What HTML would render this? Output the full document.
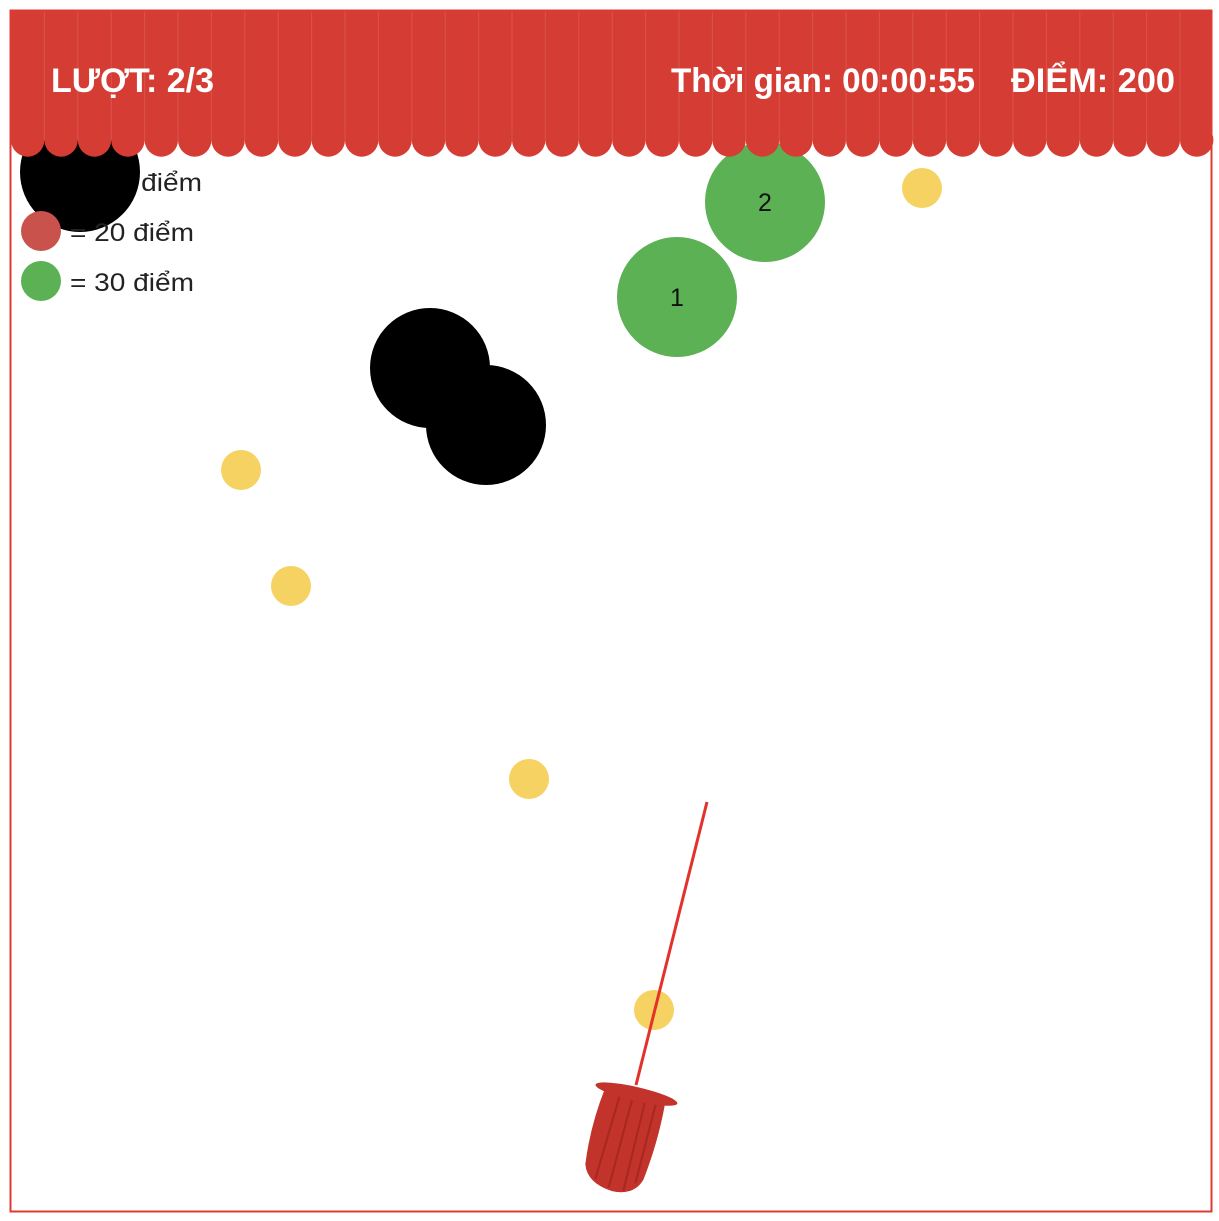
<!DOCTYPE html>
<html><head><meta charset="utf-8"><style>
html,body{margin:0;padding:0;background:#fff;}
svg{display:block;}
text{font-family:"Liberation Sans","DejaVu Sans",sans-serif;}
</style></head>
<body>
<svg id="game" width="1219" height="1221" viewBox="0 0 1219 1221" xmlns="http://www.w3.org/2000/svg">
<rect x="10" y="10" width="1202" height="1202" fill="#fff"/>
<g id="balls"></g>
<g id="legend">
 <circle cx="41" cy="231" r="20" fill="#c9524c"/>
 <text x="70" y="241" font-size="25" fill="#222" textLength="124" lengthAdjust="spacingAndGlyphs">= 20 điểm</text>
 <circle cx="41" cy="281" r="20" fill="#5cb155"/>
 <text x="70" y="291" font-size="25" fill="#222" textLength="124" lengthAdjust="spacingAndGlyphs">= 30 điểm</text>
</g>
<g id="front"></g>
<g id="header"></g>
<line x1="707" y1="802" x2="636" y2="1085" stroke="#e3322a" stroke-width="3"/>
<g transform="translate(627,1135) rotate(13)">
 <path d="M-32,-40 L30,-40 Q32,0 26,40 Q20,58 -2,58 Q-28,56 -34,38 Q-38,0 -32,-40 Z" fill="#c1332b"/>
 <path d="M-16,-36 L-21,50 M-3,-36 L-6,55 M10,-36 L9,55 M21,-36 L19,45" stroke="#a8271f" stroke-width="2" fill="none"/>
 <ellipse cx="0" cy="-42" rx="42" ry="7" fill="#c1332b"/>
</g>
<rect x="10.5" y="10.5" width="1201" height="1201" fill="none" stroke="#e03a30" stroke-width="2"/>
</svg>
<script>
var ballX=[80,765,677,430,486,922,241,291,529,654];
var ballY=[172,202,297,368,425,188,470,586,779,1010];
var ballR=[60,60,60,60,60,20,20,20,20,20];
var ballColor=["#000","#5cb155","#5cb155","#000","#000","#f6d262","#f6d262","#f6d262","#f6d262","#f6d262"];
var ballLabel=["","2","1","","","","","","",""];
var NS="http://www.w3.org/2000/svg";
var bl=document.getElementById('balls');
for(var i=0;i<ballX.length;i++){
 var c=document.createElementNS(NS,'circle');
 c.setAttribute('cx',ballX[i]);c.setAttribute('cy',ballY[i]);c.setAttribute('r',ballR[i]);c.setAttribute('fill',ballColor[i]);
 
 
 (i==0?bl:document.getElementById('front')).appendChild(c);
 if(ballLabel[i]){
  var t=document.createElementNS(NS,'text');
  t.setAttribute('x',ballX[i]);t.setAttribute('y',ballY[i]+9);t.setAttribute('text-anchor','middle');t.setAttribute('font-size','25');t.setAttribute('fill','#111');
  t.textContent=ballLabel[i];
  
  
  document.getElementById('front').appendChild(t);
 }
}
var lt=document.createElementNS(NS,'text');
lt.setAttribute('x',78);lt.setAttribute('y',191);lt.setAttribute('font-size','25');lt.setAttribute('fill','#222');
lt.setAttribute('textLength',124);lt.setAttribute('lengthAdjust','spacingAndGlyphs');
lt.textContent='= 10 điểm';


bl.insertBefore(lt,bl.firstChild);
var h=document.getElementById('header');
var r=document.createElementNS(NS,'rect');
r.setAttribute('x',11);r.setAttribute('y',11);r.setAttribute('width',1200);r.setAttribute('height',129);r.setAttribute('fill','#d53c34');


h.appendChild(r);
for(var k=0;k<36;k++){
 var x0=11+k*33.4;
 var s=document.createElementNS(NS,'circle');
 s.setAttribute('cx',x0+16.7);s.setAttribute('cy',140);s.setAttribute('r',16.7);s.setAttribute('fill','#d53c34');
 
 
 h.appendChild(s);
 if(k>0){
  var l=document.createElementNS(NS,'line');
  l.setAttribute('x1',x0);l.setAttribute('x2',x0);l.setAttribute('y1',11);l.setAttribute('y2',140);
  l.setAttribute('stroke','#e0625b');l.setAttribute('stroke-width','1');l.setAttribute('opacity','0.6');
  
  
  h.appendChild(l);
 }
}
function addText(str,x,len,name){
 var t=document.createElementNS(NS,'text');
 t.setAttribute('x',x);t.setAttribute('y',92);t.setAttribute('font-size','34');t.setAttribute('font-weight','bold');t.setAttribute('fill','#fff');
 t.setAttribute('textLength',len);t.setAttribute('lengthAdjust','spacingAndGlyphs');
 t.textContent=str;
 
 
 h.appendChild(t);
}
addText('LƯỢT: 2/3',51,163,'turn-counter');
addText('Thời gian: 00:00:55',671,304,'timer');
addText('ĐIỂM: 200',1011,164,'score');
</script>
</body></html>
